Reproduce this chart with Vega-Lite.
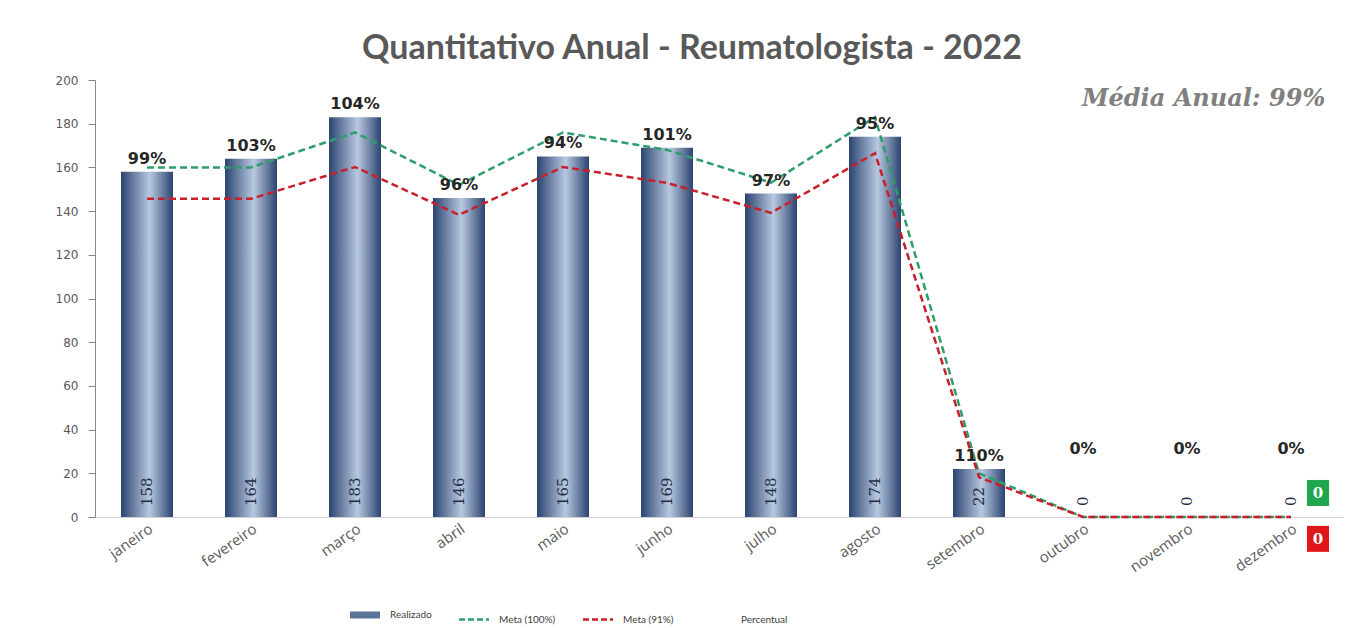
{
  "$schema": "https://vega.github.io/schema/vega-lite/v6.json",
  "width": 1248,
  "height": 437,
  "autosize": "none",
  "padding": {"left": 95, "top": 80, "right": 14, "bottom": 111},
  "background": "white",
  "config": {"view": {"stroke": null}},
  "title": {
    "text": "Quantitativo Anual - Reumatologista - 2022",
    "font": "Lato",
    "fontSize": 34,
    "fontWeight": "bold",
    "color": "#595959",
    "anchor": "middle",
    "offset": 8,
    "dx": -27
  },
  "data": {
    "values": [
      {"mes": "janeiro", "Realizado": 158, "Meta (100%)": 160, "Meta (91%)": 145.6, "Percentual": "99%"},
      {"mes": "fevereiro", "Realizado": 164, "Meta (100%)": 160, "Meta (91%)": 145.6, "Percentual": "103%"},
      {"mes": "março", "Realizado": 183, "Meta (100%)": 176, "Meta (91%)": 160.2, "Percentual": "104%"},
      {"mes": "abril", "Realizado": 146, "Meta (100%)": 152, "Meta (91%)": 138.3, "Percentual": "96%"},
      {"mes": "maio", "Realizado": 165, "Meta (100%)": 176, "Meta (91%)": 160.2, "Percentual": "94%"},
      {"mes": "junho", "Realizado": 169, "Meta (100%)": 168, "Meta (91%)": 152.9, "Percentual": "101%"},
      {"mes": "julho", "Realizado": 148, "Meta (100%)": 153, "Meta (91%)": 139.2, "Percentual": "97%"},
      {"mes": "agosto", "Realizado": 174, "Meta (100%)": 183, "Meta (91%)": 166.5, "Percentual": "95%"},
      {"mes": "setembro", "Realizado": 22, "Meta (100%)": 20, "Meta (91%)": 18.2, "Percentual": "110%"},
      {"mes": "outubro", "Realizado": 0, "Meta (100%)": 0, "Meta (91%)": 0, "Percentual": "0%"},
      {"mes": "novembro", "Realizado": 0, "Meta (100%)": 0, "Meta (91%)": 0, "Percentual": "0%"},
      {"mes": "dezembro", "Realizado": 0, "Meta (100%)": 0, "Meta (91%)": 0, "Percentual": "0%"}
    ]
  },
  "encoding": {
    "x": {
      "field": "mes",
      "type": "nominal",
      "sort": null,
      "scale": {"paddingInner": 0, "paddingOuter": 0},
      "axis": {
        "title": null,
        "labelAngle": -35,
        "labelAlign": "right",
        "labelBaseline": "top",
        "labelFont": "Open Sans",
        "labelFontSize": 15,
        "labelColor": "#595959",
        "labelPadding": 4,
        "ticks": false,
        "domainColor": "#d0d0d0",
        "domainWidth": 1
      }
    }
  },
  "layer": [
    {
      "mark": {
        "type": "bar",
        "width": {"band": 0.5},
        "color": {
          "gradient": "linear",
          "x1": 0, "x2": 1, "y1": 0, "y2": 0,
          "stops": [
            {"offset": 0, "color": "#2b4470"},
            {"offset": 0.55, "color": "#b8c8e0"},
            {"offset": 1, "color": "#2b4470"}
          ]
        }
      },
      "encoding": {
        "y": {
          "field": "Realizado",
          "type": "quantitative",
          "scale": {"domain": [0, 200], "nice": false},
          "axis": {
            "title": null,
            "values": [0, 20, 40, 60, 80, 100, 120, 140, 160, 180, 200],
            "grid": false,
            "tickSize": 7,
            "tickColor": "#868686",
            "domainColor": "#868686",
            "labelPadding": 10,
            "labelFont": "DejaVu Sans",
            "labelFontSize": 12,
            "labelColor": "#595959"
          }
        }
      }
    },
    {
      "transform": [{"fold": ["Meta (100%)", "Meta (91%)"], "as": ["serie", "valor"]}],
      "mark": {"type": "line", "strokeDash": [7, 4], "strokeWidth": 2.5},
      "encoding": {
        "y": {"field": "valor", "type": "quantitative", "axis": {"title": null}},
        "color": {
          "field": "serie",
          "type": "nominal",
          "scale": {
            "domain": ["Realizado", "Meta (100%)", "Meta (91%)", "Percentual"],
            "range": ["#5a7398", "#2e9e6b", "#c8202a", "#ffffff"]
          },
          "legend": {
            "orient": "none",
            "legendX": 265,
            "legendY": 530,
            "direction": "horizontal",
            "title": null,
            "symbolType": "stroke",
            "symbolSize": 900,
            "symbolStrokeWidth": 2.5,
            "labelFont": "Lato",
            "labelFontSize": 10,
            "labelColor": "#404040",
            "labelOffset": 20,
            "columnPadding": 22,
            "encode": {
              "symbols": {
                "update": {
                  "strokeDash": {"signal": "datum.value === 'Meta (100%)' || datum.value === 'Meta (91%)' ? [6, 3] : []"},
                  "strokeWidth": {"signal": "datum.value === 'Realizado' ? 7 : 2.5"}
                }
              }
            }
          }
        }
      }
    },
    {
      "transform": [{"filter": "datum.Realizado > 0"}],
      "mark": {"type": "text", "baseline": "bottom", "dy": -5, "font": "DejaVu Sans", "fontSize": 16, "fontWeight": "bold", "color": "#262626"},
      "encoding": {
        "y": {"field": "Realizado", "type": "quantitative"},
        "text": {"field": "Percentual"}
      }
    },
    {
      "transform": [{"filter": "datum.Realizado == 0"}],
      "mark": {"type": "text", "baseline": "bottom", "dy": -5, "font": "DejaVu Sans", "fontSize": 16, "fontWeight": "bold", "color": "#262626"},
      "encoding": {
        "y": {"datum": 25},
        "text": {"field": "Percentual"}
      }
    },
    {
      "mark": {"type": "text", "angle": 270, "align": "left", "baseline": "middle", "dx": 11, "font": "DejaVu Serif", "fontSize": 15, "color": "#1f2d45"},
      "encoding": {
        "y": {"datum": 0},
        "text": {"field": "Realizado", "type": "quantitative"}
      }
    },
    {
      "data": {"values": [{"rotulo": "Média Anual: 99%"}]},
      "mark": {"type": "text", "align": "left", "baseline": "alphabetic", "dx": -209, "font": "DejaVu Serif", "fontSize": 24, "fontWeight": "bold", "fontStyle": "italic", "color": "#808080"},
      "encoding": {
        "x": {"datum": "dezembro"},
        "y": {"datum": 188},
        "text": {"field": "rotulo"}
      }
    },
    {
      "data": {"values": [{"caixa": "verde", "valor": 11, "rotulo": "0"}, {"caixa": "vermelha", "valor": -10, "rotulo": "0"}]},
      "mark": {"type": "point", "shape": "M-0.85,-1H0.85V1H-0.85Z", "filled": true, "size": 676, "opacity": 1, "xOffset": 27},
      "encoding": {
        "x": {"datum": "dezembro"},
        "y": {"field": "valor", "type": "quantitative"},
        "fill": {"field": "caixa", "type": "nominal", "scale": {"domain": ["verde", "vermelha"], "range": ["#1fa64f", "#e0161a"]}, "legend": null}
      }
    },
    {
      "data": {"values": [{"caixa": "verde", "valor": 11, "rotulo": "0"}, {"caixa": "vermelha", "valor": -10, "rotulo": "0"}]},
      "mark": {"type": "text", "xOffset": 27, "align": "center", "baseline": "middle", "font": "DejaVu Serif", "fontSize": 15, "fontWeight": "bold", "color": "white"},
      "encoding": {
        "x": {"datum": "dezembro"},
        "y": {"field": "valor", "type": "quantitative"},
        "text": {"field": "rotulo"}
      }
    }
  ]
}
